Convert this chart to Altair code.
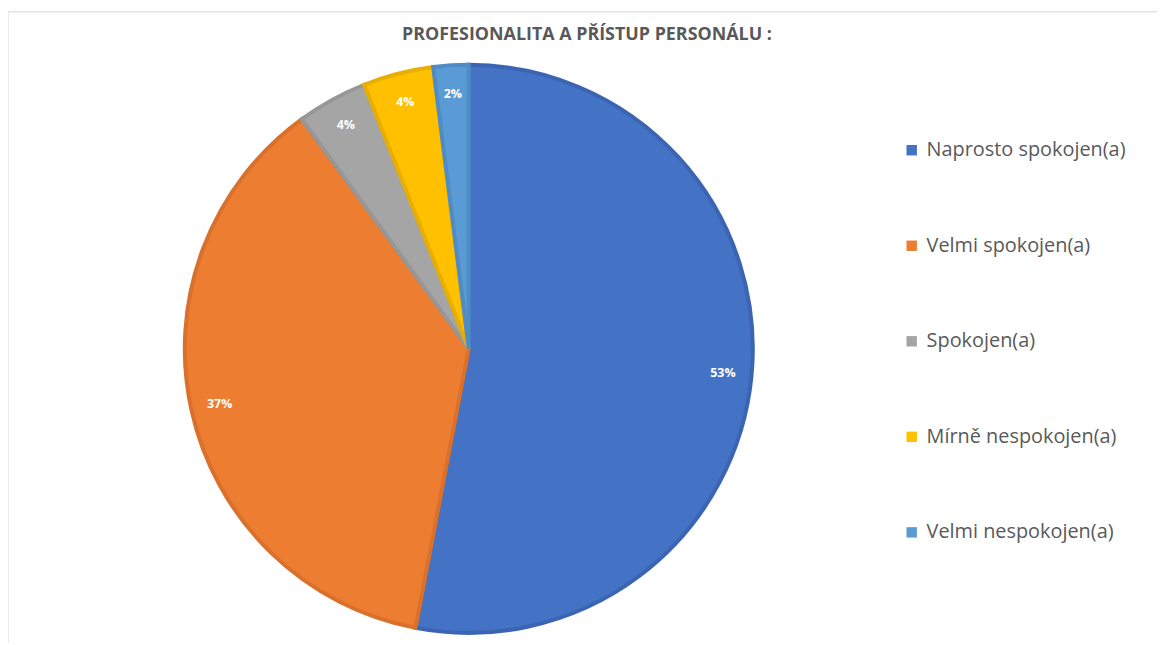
import altair as alt
import pandas as pd

categories = ["Naprosto spokojen(a)", "Velmi spokojen(a)", "Spokojen(a)",
              "Mírně nespokojen(a)", "Velmi nespokojen(a)"]
values = [53, 37, 4, 4, 2]
labels = ["53%", "37%", "4%", "4%", "2%"]
fill_colors = ["#4472C4", "#ED7D31", "#A5A5A5", "#FFC000", "#5B9BD5"]
stroke_colors = ["#3B65B3", "#D9702B", "#979797", "#E8AE00", "#4F8CC6"]
title_text = ["PROFESIONALITA A PŘÍSTUP PERSONÁLU :"]

df = pd.DataFrame({"cat": categories, "val": values, "label": labels,
                   "ord": list(range(len(categories)))})

CX, CY = 464, 341

base = alt.Chart(df).encode(
    theta=alt.Theta("val:Q", stack=True),
    order=alt.Order("ord:Q"),
)

arcs = base.mark_arc(outerRadius=286, strokeWidth=4).encode(
    x=alt.value(CX), y=alt.value(CY),
    color=alt.Color("cat:N", scale=alt.Scale(domain=categories, range=fill_colors),
                    sort=categories,
                    legend=alt.Legend(title=None, orient="none", legendX=900, legendY=131,
                                      symbolType="square", symbolSize=110,
                                      symbolStrokeWidth=0,
                                      labelFontSize=20, labelColor="#595959",
                                      labelFont="Open Sans", labelOffset=5,
                                      labelLimit=400,
                                      rowPadding=76.2)),
    stroke=alt.Stroke("cat:N", scale=alt.Scale(domain=categories, range=stroke_colors),
                      legend=None),
)

texts = base.mark_text(radius=257, fontSize=12.5, fontWeight="bold", color="white",
                       font="Open Sans").encode(
    x=alt.value(CX), y=alt.value(CY), text="label:N")

title = alt.Chart(pd.DataFrame({"t": title_text})).mark_text(
    fontSize=18, fontWeight="bold", color="#595959", font="Open Sans"
).encode(x=alt.value(583), y=alt.value(25), text="t:N")

frame_top = alt.Chart(pd.DataFrame({"t": title_text})).mark_rule(
    color="#E3E3E3", strokeWidth=1.5).encode(
    x=alt.value(0), x2=alt.value(1157), y=alt.value(1.5))
frame_left = alt.Chart(pd.DataFrame({"t": title_text})).mark_rule(
    color="#E3E3E3", strokeWidth=1.5).encode(
    x=alt.value(0), y=alt.value(1.5), y2=alt.value(637))

chart = alt.layer(frame_top, frame_left, arcs, texts, title).properties(
    width=1157, height=637, padding=0,
    autosize=alt.AutoSizeParams(type="none"),
).configure_view(stroke=None)

chart.save("out.html", embed_options={"renderer": "svg", "actions": False})
